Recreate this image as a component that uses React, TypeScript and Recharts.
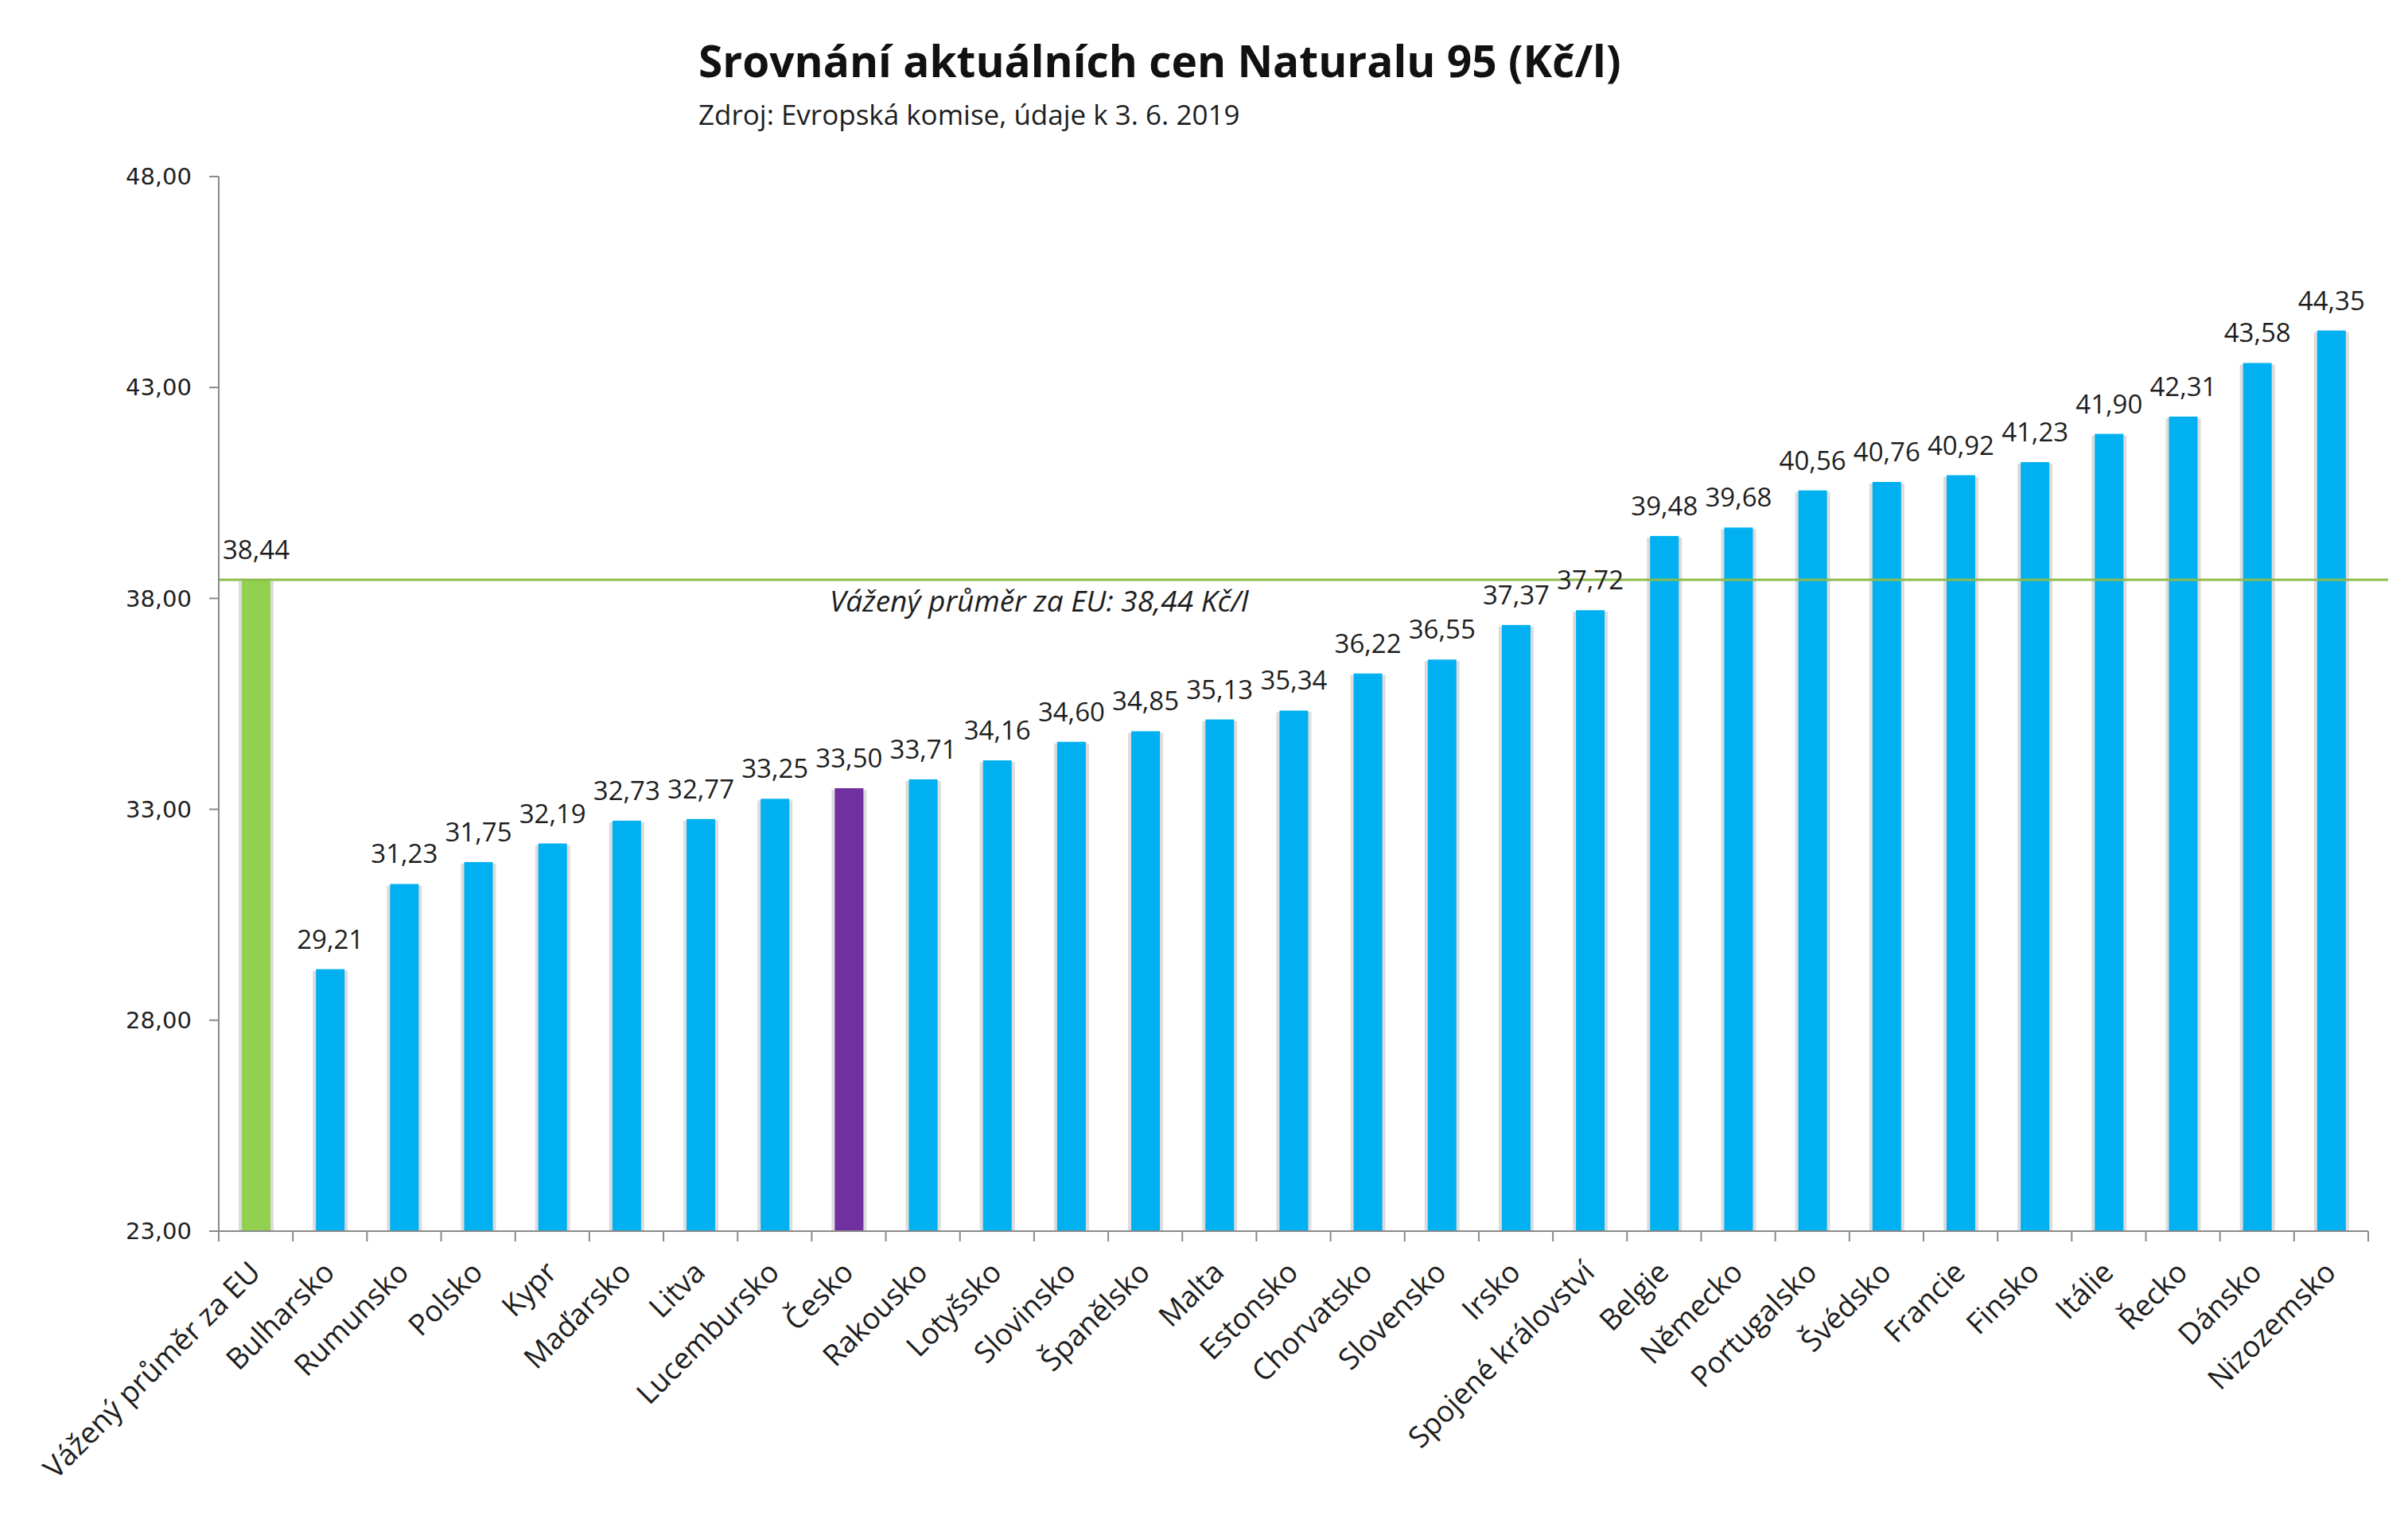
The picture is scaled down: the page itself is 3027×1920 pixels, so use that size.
import React from 'react';
import { BarChart, Bar, XAxis, YAxis, Cell, LabelList, ReferenceLine } from 'recharts';

// Naturalu 95 prices by country (Kč/l), sorted ascending after the EU average
const categories = [
  'Vážený průměr za EU', 'Bulharsko', 'Rumunsko', 'Polsko', 'Kypr', 'Maďarsko', 'Litva',
  'Lucembursko', 'Česko', 'Rakousko', 'Lotyšsko', 'Slovinsko', 'Španělsko', 'Malta',
  'Estonsko', 'Chorvatsko', 'Slovensko', 'Irsko', 'Spojené království', 'Belgie',
  'Německo', 'Portugalsko', 'Švédsko', 'Francie', 'Finsko', 'Itálie', 'Řecko', 'Dánsko',
  'Nizozemsko',
];
const prices = [
  38.44, 29.21, 31.23, 31.75, 32.19, 32.73, 32.77,
  33.25, 33.5, 33.71, 34.16, 34.6, 34.85, 35.13,
  35.34, 36.22, 36.55, 37.37, 37.72, 39.48,
  39.68, 40.56, 40.76, 40.92, 41.23, 41.9, 42.31, 43.58,
  44.35,
];
const yTicks = [23, 28, 33, 38, 43, 48];
const euAverage = 38.44;
const averageCategory = 'Vážený průměr za EU';
const homeCategory = 'Česko';

const title = 'Srovnání aktuálních cen Naturalu 95 (Kč/l)';
const subtitle = 'Zdroj: Evropská komise, údaje k 3. 6. 2019';
const averageText = 'Vážený průměr za EU: 38,44 Kč/l';

const data = categories.map((name, i) => ({ name, price: prices[i] }));

const W = 3027;
const H = 1920;
const margin = { top: 222, right: 50, bottom: 72, left: 75 };
const Y_AXIS_W = 200;
const X_AXIS_H = 300;
const plotWidth = W - margin.left - Y_AXIS_W - margin.right;
const band = plotWidth / categories.length;

const AXIS = '#8a8a8a';
const TEXT = '#1e1e1e';
const BLUE = '#00b0f0';
const GREEN = '#92d050';
const PURPLE = '#7030a0';
const LINE_GREEN = '#8dbb4c';
const SANS = '"Open Sans", "Noto Sans", sans-serif';

const fmt = (v: number) => Number(v).toFixed(2).replace('.', ',');

const fillFor = (name: string) =>
  name === averageCategory ? GREEN : name === homeCategory ? PURPLE : BLUE;

// Bar with a faint grey halo on its sides
const ShadowBar = (props: any) => {
  const { x, y, width, height, fill } = props;
  if (height <= 0) return null;
  return (
    <g>
      <rect x={x - 4} y={y + 2} width={width + 8} height={height - 2} fill="#dcdcdc" />
      <rect x={x} y={y} width={width} height={height} fill={fill} />
    </g>
  );
};

// Category tick: boundary tick marks and a label rotated 45°
const XTick = (props: any) => {
  const { x, y, payload, index } = props;
  const left = x - band / 2;
  const tx = x + 8;
  const ty = y + 54;
  return (
    <g>
      <line x1={left} y1={y} x2={left} y2={y + 13} stroke={AXIS} strokeWidth={2} />
      {index === categories.length - 1 && (
        <line x1={x + band / 2} y1={y} x2={x + band / 2} y2={y + 13} stroke={AXIS} strokeWidth={2} />
      )}
      <text
        x={tx}
        y={ty}
        transform={`rotate(-45, ${tx}, ${ty})`}
        textAnchor="end"
        fontFamily={SANS}
        fontSize={37}
        fill={TEXT}
      >
        {payload.value}
      </text>
    </g>
  );
};

// EU average line running slightly past the plot, with its caption
const AverageLine = (props: any) => {
  const { x1, y1, x2, y2 } = props;
  return (
    <g>
      <line x1={x1} y1={y1} x2={x2 + 25} y2={y2} stroke={LINE_GREEN} strokeWidth={3} />
      <text
        x={x1 + 768}
        y={y1 + 25}
        dominantBaseline="central"
        fontFamily={SANS}
        fontStyle="italic"
        fontSize={37}
        fill={TEXT}
      >
        {averageText}
      </text>
    </g>
  );
};

export default function App() {
  return (
    <div style={{ position: 'absolute', left: 0, top: 0, width: W, height: H, background: '#fff' }}>
      <div
        style={{
          position: 'absolute',
          left: 878,
          top: 46,
          fontFamily: SANS,
          fontWeight: 700,
          fontSize: 55,
          lineHeight: '60px',
          color: '#111',
          whiteSpace: 'nowrap',
        }}
      >
        {title}
      </div>
      <div
        style={{
          position: 'absolute',
          left: 878,
          top: 124,
          fontFamily: SANS,
          fontSize: 35,
          lineHeight: '40px',
          color: TEXT,
          whiteSpace: 'nowrap',
        }}
      >
        {subtitle}
      </div>
      <BarChart width={W} height={H} data={data} margin={margin} barSize={36}>
        <XAxis
          dataKey="name"
          interval={0}
          height={X_AXIS_H}
          tickSize={0}
          tickMargin={0}
          tickLine={false}
          axisLine={{ stroke: AXIS, strokeWidth: 2 }}
          tick={<XTick />}
        />
        <YAxis
          domain={[23, 48]}
          ticks={yTicks}
          width={Y_AXIS_W}
          tickFormatter={fmt}
          tickSize={12}
          tickMargin={22}
          tickLine={{ stroke: AXIS, strokeWidth: 2 }}
          axisLine={{ stroke: AXIS, strokeWidth: 2 }}
          tick={{ fontFamily: '"DejaVu Sans", sans-serif', fontSize: 29, fill: TEXT }}
        />
        <Bar dataKey="price" isAnimationActive={false} shape={<ShadowBar />}>
          {data.map((d) => (
            <Cell key={d.name} fill={fillFor(d.name)} />
          ))}
          <LabelList
            dataKey="price"
            position="top"
            offset={26}
            formatter={(v: any) => fmt(v)}
            fontFamily={SANS}
            fontSize={33}
            fill={TEXT}
          />
        </Bar>
        <ReferenceLine y={euAverage} stroke={LINE_GREEN} strokeWidth={3} shape={AverageLine} />
      </BarChart>
    </div>
  );
}
